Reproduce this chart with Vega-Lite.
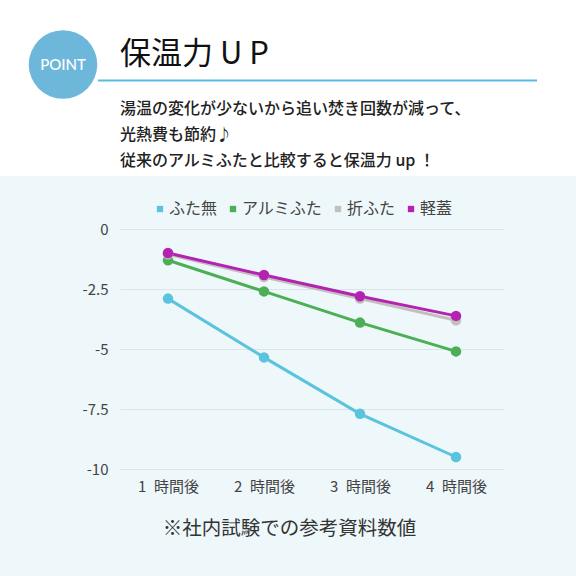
{
  "$schema": "https://vega.github.io/schema/vega-lite/v6.json",
  "width": 384,
  "height": 240,
  "autosize": {"type": "none"},
  "padding": {"left": 120, "top": 229, "right": 72, "bottom": 107},
  "background": "#eef7fa",
  "config": {
    "view": {"stroke": null},
    "font": "Noto Sans CJK JP"
  },
  "title": {
    "text": "保温力 U P",
    "subtitle": ["湯温の変化が少ないから追い焚き回数が減って、", "光熱費も節約♪", "従来のアルミふたと比較すると保温力 up ！"],
    "anchor": "start",
    "frame": "group",
    "offset": -170,
    "font": "Noto Sans CJK JP",
    "fontSize": 31,
    "fontWeight": "normal",
    "color": "#111111",
    "subtitleFont": "Noto Sans CJK JP",
    "subtitleFontSize": 16,
    "subtitleFontWeight": 500,
    "subtitleColor": "#222222",
    "subtitleLineHeight": 26,
    "subtitlePadding": 30
  },
  "data": {
    "values": [
      {"series": "ふた無", "hour": 1, "value": -2.9},
      {"series": "ふた無", "hour": 2, "value": -5.35},
      {"series": "ふた無", "hour": 3, "value": -7.7},
      {"series": "ふた無", "hour": 4, "value": -9.5},
      {"series": "アルミふた", "hour": 1, "value": -1.3},
      {"series": "アルミふた", "hour": 2, "value": -2.6},
      {"series": "アルミふた", "hour": 3, "value": -3.9},
      {"series": "アルミふた", "hour": 4, "value": -5.1},
      {"series": "折ふた", "hour": 1, "value": -1.05},
      {"series": "折ふた", "hour": 2, "value": -2.0},
      {"series": "折ふた", "hour": 3, "value": -2.9},
      {"series": "折ふた", "hour": 4, "value": -3.8},
      {"series": "軽蓋", "hour": 1, "value": -1.0},
      {"series": "軽蓋", "hour": 2, "value": -1.92},
      {"series": "軽蓋", "hour": 3, "value": -2.8},
      {"series": "軽蓋", "hour": 4, "value": -3.62}
    ]
  },
  "layer": [
    {
      "data": {"values": [{"panel": "header"}]},
      "mark": {"type": "rect", "fill": "white"},
      "encoding": {"x": {"value": -120}, "x2": {"value": 456}, "y": {"value": -229}, "y2": {"value": -53}}
    },
    {
      "data": {"values": [{"label": "POINT"}]},
      "mark": {"type": "circle", "size": 4700, "fill": "#6cb7da", "opacity": 1},
      "encoding": {"x": {"value": -57}, "y": {"value": -164.5}}
    },
    {
      "data": {"values": [{"label": "POINT"}]},
      "mark": {"type": "text", "font": "Lato", "fontSize": 15, "fontWeight": 500, "fill": "white", "align": "center", "baseline": "middle"},
      "encoding": {"x": {"value": -57}, "y": {"value": -164}, "text": {"field": "label"}}
    },
    {
      "data": {"values": [{"label": "line"}]},
      "mark": {"type": "rule", "stroke": "#5cb9e4", "strokeWidth": 2},
      "encoding": {"x": {"value": -22}, "x2": {"value": 417}, "y": {"value": -148.5}}
    },
    {
      "mark": {"type": "line", "strokeWidth": 3},
      "encoding": {
        "x": {
          "field": "hour", "type": "quantitative",
          "scale": {"domain": [0.5, 4.5], "nice": false},
          "axis": {
            "values": [1, 2, 3, 4],
            "labelExpr": "datum.value + '\u2002時間後'",
            "grid": false, "ticks": false, "domain": false,
            "labelFont": "Noto Sans CJK JP", "labelFontSize": 15, "labelColor": "#444444", "labelPadding": 10,
            "title": "※社内試験での参考資料数値",
            "titleFont": "Noto Sans CJK JP", "titleFontSize": 19.5, "titleFontWeight": "normal", "titleColor": "#333333",
            "titlePadding": 25, "titleX": 169, "titleAlign": "center"
          }
        },
        "y": {
          "field": "value", "type": "quantitative",
          "scale": {"domain": [-10, 0], "nice": false},
          "axis": {
            "values": [0, -2.5, -5, -7.5, -10],
            "labelExpr": "'' + datum.value",
            "grid": true, "gridColor": "#dde4e7", "gridWidth": 1,
            "ticks": false, "domain": false,
            "labelFont": "Noto Sans CJK JP", "labelFontSize": 15, "labelColor": "#444444", "labelPadding": 12,
            "title": null
          }
        },
        "color": {
          "field": "series", "type": "nominal",
          "scale": {"domain": ["ふた無", "アルミふた", "折ふた", "軽蓋"], "range": ["#5ac3de", "#4caf55", "#c3bfbf", "#b322b0"]},
          "legend": {
            "title": null, "orient": "none", "direction": "horizontal",
            "legendX": 32, "legendY": -28,
            "symbolType": "square", "symbolSize": 40, "symbolStrokeWidth": 0,
            "labelFont": "Noto Sans CJK JP", "labelFontSize": 16, "labelColor": "#444444",
            "labelOffset": 1, "columnPadding": 7, "padding": 0
          }
        }
      }
    },
    {
      "mark": {"type": "circle", "size": 110, "opacity": 1},
      "encoding": {
        "x": {"field": "hour", "type": "quantitative"},
        "y": {"field": "value", "type": "quantitative"},
        "color": {"field": "series", "type": "nominal"}
      }
    }
  ]
}
